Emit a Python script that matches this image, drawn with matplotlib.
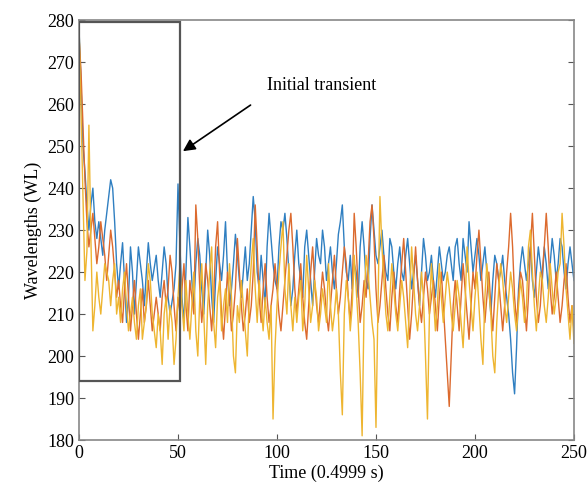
import matplotlib
matplotlib.use("Agg")
import matplotlib.pyplot as plt
from matplotlib.patches import Rectangle
import numpy as np

blue = [278, 265, 250, 244, 236, 230, 236, 240, 232, 228,
        232, 228, 224, 230, 234, 238, 242, 240, 232, 222,
        216, 222, 227, 218, 208, 214, 226, 220, 210, 218,
        226, 222, 218, 212, 220, 227, 222, 218, 221, 224,
        218, 214, 220, 226, 222, 214, 210, 213, 216, 222,
        241, 226, 214, 208, 220, 233, 226, 218, 212, 222,
        228, 224, 216, 210, 220, 230, 224, 214, 208, 218,
        226, 222, 218, 224, 232, 220, 212, 216, 222, 229,
        224, 218, 214, 220, 226, 218, 222, 230, 238, 232,
        220, 216, 224, 218, 212, 226, 234, 228, 222, 218,
        216, 226, 232, 230, 234, 228, 220, 212, 216, 224,
        230, 222, 218, 214, 226, 230, 224, 218, 212, 220,
        228, 224, 222, 230, 226, 218, 222, 226, 220, 216,
        222, 229, 232, 236, 226, 220, 218, 224, 216, 222,
        220, 214, 226, 232, 226, 218, 216, 228, 236, 230,
        224, 222, 226, 230, 224, 220, 218, 228, 226, 220,
        216, 222, 226, 220, 218, 224, 228, 222, 216, 220,
        224, 218, 212, 220, 228, 224, 218, 220, 224, 218,
        214, 220, 226, 222, 218, 220, 224, 226, 222, 218,
        226, 228, 222, 218, 228, 224, 220, 232, 226, 220,
        224, 228, 224, 218, 222, 226, 220, 216, 210, 218,
        224, 222, 218, 220, 224, 218, 214, 210, 204, 196,
        191, 202, 216, 222, 226, 222, 218, 222, 226, 218,
        214, 220, 226, 222, 218, 226, 222, 216, 222, 228,
        224, 218, 222, 228, 226, 220, 216, 222, 226, 222,
        218]

orange = [276, 268, 255, 242, 232, 226, 230, 234, 228, 222,
          226, 232, 228, 224, 218, 224, 230, 226, 220, 214,
          218, 212, 208, 216, 222, 214, 206, 212, 218, 210,
          204, 210, 216, 208, 212, 218, 212, 206, 210, 214,
          210, 206, 214, 218, 212, 216, 224, 220, 212, 206,
          214, 210, 216, 222, 212, 206, 218, 214, 210, 236,
          228, 216, 208, 214, 222, 218, 212, 206, 214, 226,
          232, 220, 210, 204, 212, 220, 214, 206, 210, 216,
          228, 220, 212, 206, 210, 216, 208, 212, 220, 236,
          226, 214, 208, 216, 222, 214, 208, 212, 216, 222,
          216, 210, 206, 212, 218, 224, 230, 234, 226, 216,
          210, 216, 222, 214, 208, 204, 212, 220, 226, 218,
          212, 208, 214, 220, 216, 210, 206, 212, 218, 224,
          216, 210, 214, 220, 226, 222, 214, 208, 216, 234,
          226, 216, 208, 212, 218, 214, 222, 232, 236, 228,
          216, 208, 212, 218, 224, 216, 210, 206, 214, 220,
          212, 208, 216, 222, 228, 220, 212, 204, 210, 218,
          226, 218, 212, 208, 214, 220, 216, 210, 214, 218,
          212, 206, 214, 220, 212, 204, 196, 188, 200, 212,
          218, 212, 206, 214, 222, 216, 210, 204, 212, 220,
          216, 224, 230, 222, 214, 208, 214, 220, 212, 206,
          214, 222, 218, 212, 206, 212, 220, 226, 234, 226,
          214, 208, 214, 220, 218, 212, 206, 214, 226, 234,
          224, 214, 208, 212, 220, 226, 234, 226, 216, 210,
          214, 220, 214, 208, 212, 218, 222, 214, 208, 212,
          206]

yellow = [279, 258, 238, 218, 225, 255, 228, 206, 212, 220,
          214, 210, 216, 222, 220, 218, 212, 218, 222, 210,
          214, 208, 216, 220, 212, 206, 210, 214, 208, 204,
          212, 216, 204, 208, 212, 222, 218, 210, 206, 202,
          210, 206, 198, 210, 214, 204, 212, 208, 198, 204,
          214, 222, 212, 206, 218, 210, 204, 212, 220, 206,
          200, 214, 222, 210, 198, 212, 220, 226, 208, 202,
          214, 218, 206, 212, 216, 208, 222, 214, 200, 196,
          212, 208, 218, 212, 206, 200, 214, 222, 228, 216,
          208, 218, 212, 206, 214, 208, 204, 212, 185, 202,
          212, 220, 226, 232, 216, 210, 222, 212, 206, 214,
          208, 214, 218, 206, 212, 224, 216, 208, 212, 218,
          214, 206, 210, 216, 212, 208, 222, 212, 206, 210,
          216, 210, 196, 186, 210, 218, 214, 206, 212, 224,
          216, 208, 196, 181, 212, 224, 220, 214, 208, 204,
          183, 212, 238, 226, 218, 210, 206, 214, 222, 216,
          210, 206, 212, 218, 214, 208, 202, 214, 226, 218,
          210, 206, 212, 220, 214, 200, 185, 210, 222, 214,
          206, 212, 222, 214, 208, 214, 220, 216, 210, 206,
          212, 218, 214, 208, 202, 212, 226, 218, 212, 206,
          214, 220, 212, 204, 198, 214, 222, 216, 210, 200,
          196, 208, 216, 222, 218, 212, 208, 214, 220, 216,
          210, 206, 212, 218, 214, 208, 212, 226, 230, 220,
          212, 206, 214, 220, 218, 212, 208, 214, 222, 216,
          210, 214, 220, 222, 234, 226, 216, 210, 204, 212,
          203]

xticks = [0, 50, 100, 150, 200, 250]
yticks = [180, 190, 200, 210, 220, 230, 240, 250, 260, 270, 280]

plt.rcParams['font.family'] = ['Liberation Serif', 'DejaVu Serif']

fig = plt.figure(figsize=(5.87, 4.93), dpi=100)
ax = fig.add_axes([0.1346, 0.1075, 0.8432, 0.8515])

t = np.arange(len(blue))
ax.plot(t, blue, color='#2f7fc1', lw=1.0)
ax.plot(t, orange, color='#dc6a2e', lw=1.0)
ax.plot(t, yellow, color='#eeb530', lw=1.0)

ax.set_xlim(0, 250)
ax.set_ylim(180, 280)
ax.set_xticks(xticks)
ax.set_yticks(yticks)
ax.tick_params(direction='in', length=4, width=0.8, colors='#555555',
               labelcolor='black', labelsize=13, top=False, right=True)
for s in ax.spines.values():
    s.set_color('#888888')
    s.set_linewidth(1.2)

ax.set_xlabel('Time (0.4999 s)', fontsize=13, labelpad=2)
ax.set_ylabel('Wavelengths (WL)', fontsize=13, labelpad=4)

rect = Rectangle((0, 194), 51, 85.6, fill=False, edgecolor='#555555', lw=1.6,
                 zorder=5)
ax.add_patch(rect)

ax.annotate('Initial transient', xy=(52.5, 248.8), xytext=(95, 264.5),
            fontsize=13, ha='left', va='center',
            arrowprops=dict(arrowstyle='-|>', color='black', lw=1.2,
                            mutation_scale=18, shrinkA=12, shrinkB=0,
                            relpos=(0, 0)))

fig.savefig('out.png', dpi=100)
